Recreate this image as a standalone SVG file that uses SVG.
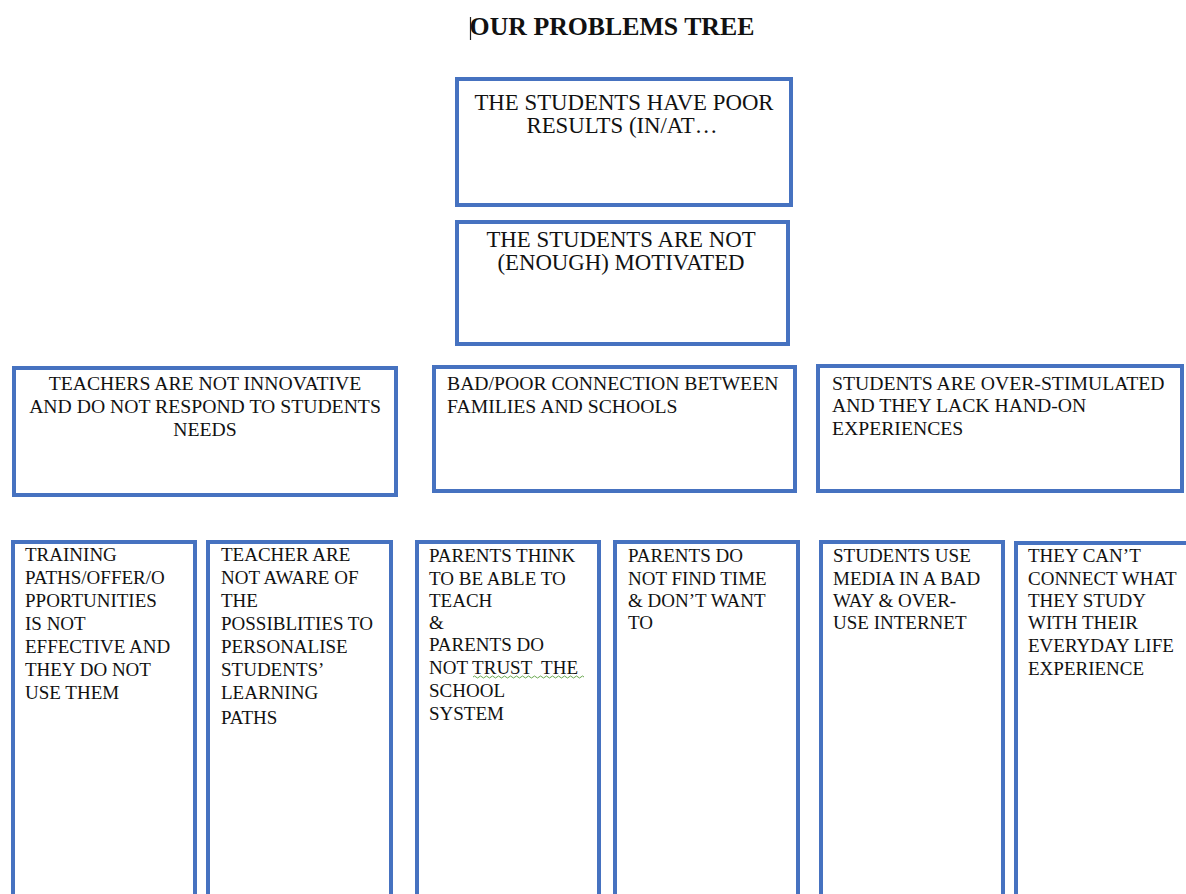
<svg xmlns="http://www.w3.org/2000/svg" width="1186" height="894" viewBox="0 0 1186 894" font-family="'Liberation Serif', 'Times New Roman', Times, 'DejaVu Serif', serif">
<style>
  .box { fill: #ffffff; stroke: #4672C0; stroke-width: 4; }
  text { font-family: 'Liberation Serif', 'Times New Roman', Times, 'DejaVu Serif', serif; fill: #111111; }
  .big { font-size: 22.8px; }
  .row2 { font-size: 19.7px; }
  .mid { font-size: 19px; }
  .title { font-size: 25.8px; font-weight: bold; }
  .c { text-anchor: middle; }
</style>
<rect width="1186" height="894" fill="#ffffff"/>
<g id="title">
  <line x1="470.5" y1="17" x2="470.5" y2="40" stroke="#222" stroke-width="1.2"/>
  <text class="title c" x="612" y="35">OUR PROBLEMS TREE</text>
</g>
<g id="connectors"></g>
<g id="n-results">
  <rect class="box" x="457" y="79" width="334" height="126"/>
  <text class="big c" x="624" y="110">THE STUDENTS HAVE POOR</text>
  <text class="big c" x="622" y="133">RESULTS (IN/AT…</text>
</g>
<g id="n-motivated">
  <rect class="box" x="457" y="222" width="331" height="122"/>
  <text class="big c" x="621" y="247">THE STUDENTS ARE NOT</text>
  <text class="big c" x="621" y="270">(ENOUGH) MOTIVATED</text>
</g>
<g id="n-teachers">
  <rect class="box" x="14" y="368" width="382" height="127"/>
  <text class="row2 c" x="205" y="390">TEACHERS ARE NOT INNOVATIVE</text>
  <text class="row2 c" x="205" y="413">AND DO NOT RESPOND TO STUDENTS</text>
  <text class="row2 c" x="205" y="436">NEEDS</text>
</g>
<g id="n-families">
  <rect class="box" x="434" y="367" width="361" height="124"/>
  <text class="row2" x="447" y="390">BAD/POOR CONNECTION BETWEEN</text>
  <text class="row2" x="447" y="413">FAMILIES AND SCHOOLS</text>
</g>
<g id="n-stimulated">
  <rect class="box" x="818" y="366" width="364" height="125"/>
  <text class="row2" x="832" y="390">STUDENTS ARE OVER-STIMULATED</text>
  <text class="row2" x="832" y="412">AND THEY LACK HAND-ON</text>
  <text class="row2" x="832" y="435">EXPERIENCES</text>
</g>
<g id="n-training">
  <rect class="box" x="13" y="542" width="182" height="400"/>
  <text class="mid" x="25" y="561">TRAINING</text>
  <text class="mid" x="25" y="584">PATHS/OFFER/O</text>
  <text class="mid" x="25" y="607">PPORTUNITIES</text>
  <text class="mid" x="25" y="630">IS NOT</text>
  <text class="mid" x="25" y="653">EFFECTIVE AND</text>
  <text class="mid" x="25" y="676">THEY DO NOT</text>
  <text class="mid" x="25" y="699">USE THEM</text>
</g>
<g id="n-aware">
  <rect class="box" x="208" y="542" width="183" height="400"/>
  <text class="mid" x="221" y="561">TEACHER ARE</text>
  <text class="mid" x="221" y="584">NOT AWARE OF</text>
  <text class="mid" x="221" y="607">THE</text>
  <text class="mid" x="221" y="630">POSSIBLITIES TO</text>
  <text class="mid" x="221" y="653">PERSONALISE</text>
  <text class="mid" x="221" y="676">STUDENTS’</text>
  <text class="mid" x="221" y="699">LEARNING</text>
  <text class="mid" x="221" y="724">PATHS</text>
</g>
<g id="n-parents-teach">
  <rect class="box" x="417" y="542" width="182" height="400"/>
  <text class="mid" x="429" y="562">PARENTS THINK</text>
  <text class="mid" x="429" y="585">TO BE ABLE TO</text>
  <text class="mid" x="429" y="607">TEACH</text>
  <text class="mid" x="429" y="629">&amp;</text>
  <text class="mid" x="429" y="651">PARENTS DO</text>
  <text class="mid" x="429" y="674" xml:space="preserve">NOT TRUST  THE</text>
  <text class="mid" x="429" y="697">SCHOOL</text>
  <text class="mid" x="429" y="720">SYSTEM</text>
  <path d="M473 677 q1.5 -2 3 0 t3 0 t3 0 t3 0 t3 0 t3 0 t3 0 t3 0 t3 0 t3 0 t3 0 t3 0 t3 0 t3 0 t3 0 t3 0 t3 0 t3 0 t3 0 t3 0 t3 0 t3 0 t3 0 t3 0 t3 0 t3 0 t3 0 t3 0 t3 0 t3 0 t3 0 t3 0 t3 0 t3 0 t3 0 t3 0 t3 0" fill="none" stroke="#6aa84f" stroke-width="1"/>
</g>
<g id="n-parents-time">
  <rect class="box" x="615" y="542" width="183" height="400"/>
  <text class="mid" x="628" y="562">PARENTS DO</text>
  <text class="mid" x="628" y="585">NOT FIND TIME</text>
  <text class="mid" x="628" y="607">&amp; DON’T WANT</text>
  <text class="mid" x="628" y="629">TO</text>
</g>
<g id="n-media">
  <rect class="box" x="821" y="542" width="182" height="400"/>
  <text class="mid" x="833" y="562">STUDENTS USE</text>
  <text class="mid" x="833" y="585">MEDIA IN A BAD</text>
  <text class="mid" x="833" y="607">WAY &amp; OVER-</text>
  <text class="mid" x="833" y="629">USE INTERNET</text>
</g>
<g id="n-connect">
  <rect class="box" x="1016" y="543" width="200" height="400"/>
  <text class="mid" x="1028" y="562">THEY CAN’T</text>
  <text class="mid" x="1028" y="585">CONNECT WHAT</text>
  <text class="mid" x="1028" y="607">THEY STUDY</text>
  <text class="mid" x="1028" y="629">WITH THEIR</text>
  <text class="mid" x="1028" y="652">EVERYDAY LIFE</text>
  <text class="mid" x="1028" y="675">EXPERIENCE</text>
</g>
</svg>
